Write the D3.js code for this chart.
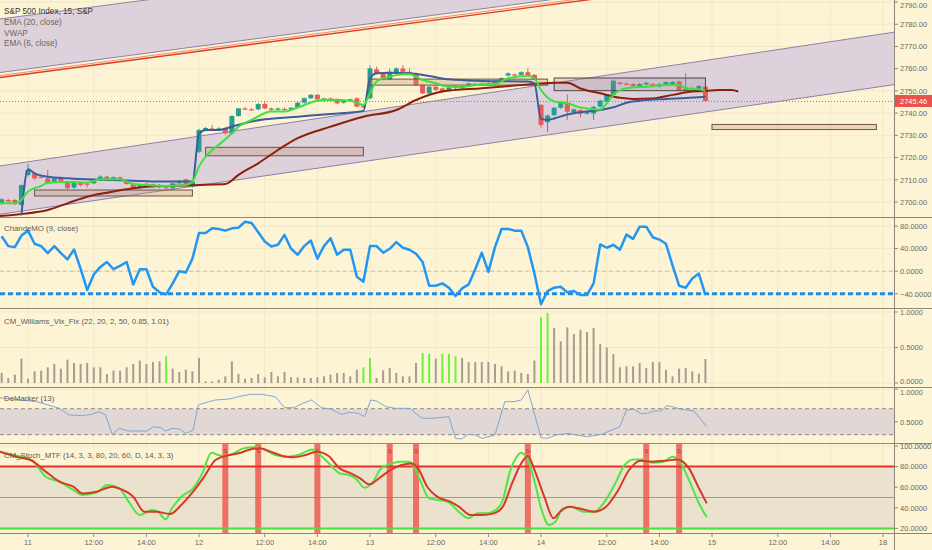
<!DOCTYPE html>
<html><head><meta charset="utf-8">
<script src="https://cdn.jsdelivr.net/npm/d3@7"></script>
<style>
html,body{margin:0;padding:0;background:#fdf4d6;}
svg{display:block;font-family:"Liberation Sans",Arial,sans-serif;}
</style></head><body>
<svg id="c" width="932" height="550"></svg>
<script>
// ---------------- DATA ----------------
const firstBar = -4; // bar index of first candle (day "11" 09:30 = 0)
// [open, high, low, close] per 15-min bar, bars -4 .. 103
const ohlc = [
[2699.3,2701.8,2698.8,2701.2],[2700.9,2701.5,2699.8,2700.2],[2700.9,2701.3,2698.5,2699.1],[2698.7,2707.8,2698.0,2707.6],
[2712.1,2717.1,2711.5,2714.4],[2712.9,2713.5,2710.0,2710.6],[2711.4,2712.0,2710.5,2711.0],[2710.6,2714.4,2708.0,2708.4],
[2708.7,2711.0,2708.5,2710.6],[2710.6,2711.5,2708.8,2709.1],[2709.1,2709.5,2705.8,2706.2],[2706.5,2709.5,2706.0,2709.1],
[2708.7,2709.0,2707.0,2707.6],[2708.3,2709.0,2706.5,2708.2],[2708.4,2710.5,2708.0,2709.9],[2709.9,2712.0,2709.5,2711.4],
[2711.4,2711.8,2710.0,2710.4],[2710.4,2711.5,2710.0,2711.2],[2711.1,2711.5,2709.5,2709.9],[2709.6,2710.0,2707.8,2708.1],
[2708.0,2708.3,2705.8,2706.2],[2706.4,2708.3,2706.0,2708.0],[2708.2,2708.6,2707.5,2708.0],[2708.0,2708.3,2706.5,2706.9],
[2706.6,2708.0,2706.2,2707.7],[2707.2,2707.5,2705.8,2706.2],[2706.2,2708.6,2705.5,2708.4],[2708.4,2709.9,2708.0,2709.6],
[2710.2,2710.6,2707.3,2707.6],[2707.6,2709.5,2706.5,2709.1],
[2722.6,2733.0,2722.0,2732.4],[2732.4,2733.8,2731.8,2733.3],[2733.1,2734.6,2732.3,2732.7],[2732.8,2733.6,2732.2,2733.1],
[2733.1,2733.5,2730.5,2730.9],[2730.9,2739.0,2730.5,2738.7],[2738.7,2742.4,2738.3,2742.1],[2742.1,2742.6,2741.3,2741.7],
[2741.7,2742.2,2741.2,2741.4],[2741.7,2744.5,2741.3,2744.1],[2744.1,2745.2,2741.8,2742.1],[2742.1,2742.5,2741.0,2741.5],
[2741.5,2742.4,2741.1,2742.1],[2741.9,2742.4,2741.2,2741.6],[2741.6,2742.8,2741.3,2742.4],[2742.4,2744.9,2742.1,2744.7],
[2744.7,2747.0,2744.3,2746.7],[2746.7,2748.6,2746.3,2748.2],[2748.2,2748.6,2745.9,2746.2],[2745.6,2746.9,2745.2,2746.6],
[2746.6,2747.0,2745.1,2745.4],[2746.2,2746.5,2744.0,2744.4],[2744.7,2746.2,2744.3,2745.9],[2745.9,2746.6,2745.5,2746.2],
[2746.6,2747.2,2742.6,2742.9],[2743.2,2743.6,2742.4,2742.8],
[2746.7,2761.5,2746.3,2760.1],[2759.7,2761.0,2757.5,2757.9],[2757.9,2758.4,2754.8,2755.2],[2755.2,2760.0,2754.8,2758.6],
[2757.9,2760.6,2757.5,2760.1],[2760.1,2761.6,2758.2,2758.6],[2758.6,2760.1,2757.5,2757.9],[2757.9,2758.3,2752.2,2752.6],
[2752.6,2753.0,2748.5,2748.9],[2748.9,2752.3,2748.5,2751.9],[2751.9,2752.3,2750.0,2750.4],[2751.1,2751.5,2749.2,2749.6],
[2750.1,2751.9,2749.7,2751.5],[2751.9,2752.3,2750.8,2751.2],[2751.2,2752.6,2750.8,2752.2],[2752.2,2753.8,2751.8,2753.4],
[2753.2,2753.6,2752.6,2753.0],[2753.0,2753.8,2752.6,2753.4],[2753.2,2753.8,2752.9,2753.5],[2753.1,2754.6,2752.8,2754.2],
[2754.2,2756.1,2753.8,2755.7],[2756.9,2758.3,2756.5,2757.9],[2757.4,2757.8,2756.8,2757.1],[2757.2,2758.8,2756.8,2758.4],
[2758.4,2760.1,2756.5,2756.9],[2757.2,2757.6,2754.8,2755.2],
[2743.7,2744.2,2733.5,2734.7],[2735.9,2739.3,2731.6,2738.9],[2739.1,2742.8,2738.7,2742.4],[2742.4,2745.1,2742.0,2744.7],
[2744.7,2748.4,2736.9,2740.6],[2740.2,2742.1,2739.8,2741.7],[2741.3,2741.7,2738.1,2739.7],[2739.7,2740.8,2739.3,2740.4],
[2739.8,2743.2,2736.9,2742.8],[2742.9,2746.0,2742.5,2745.6],[2745.2,2748.6,2744.8,2748.2],[2748.2,2755.0,2747.8,2754.6],
[2753.7,2754.1,2752.7,2753.1],[2753.3,2753.7,2752.5,2752.9],[2753.1,2753.5,2751.8,2752.2],[2752.2,2753.5,2751.8,2753.1],
[2752.9,2754.2,2752.5,2753.6],[2753.1,2753.5,2751.5,2751.9],[2751.9,2753.5,2751.5,2753.1],[2752.8,2754.4,2752.4,2754.0],
[2753.1,2754.4,2752.7,2754.0],[2754.2,2754.6,2750.0,2750.4],[2750.6,2757.9,2750.2,2750.9],[2751.0,2751.6,2750.5,2751.2],
[2750.7,2752.6,2750.3,2752.2],[2751.9,2752.3,2745.2,2745.46]
];
const lastPrice = 2745.46;
// indicator lines on price pane: [bar index, value]
const ema20 = [[-4.3,2693.7],[-1,2694.6],[3,2696.4],[6,2699.4],[9,2702.4],[12,2704.2],[16,2706.2],[20,2707.2],[25,2707.5],[27,2707.8],[30,2708.1],[32,2712.2],[35,2717.4],[38,2723.4],[41,2728.7],[46,2733.9],[51,2738.4],[56,2741.4],[59,2745.9],[63,2749.7],[69,2751.2],[74,2752.4],[77,2753.1],[80,2753.7],[82,2753.7],[84,2751.1],[87,2748.9],[90,2746.9],[92,2746.4],[95,2746.6],[98,2748.2],[101,2749.7],[103,2749.9],[105,2750.4],[107,2750.4],[108,2749.7]];
const vwap = [[-1,2694.0],[0,2714.7],[1,2712.9],[3,2711.4],[6,2710.7],[9,2710.2],[13,2709.9],[16,2709.6],[20,2709.2],[25,2709.2],[26,2730.5],[27,2732.4],[29,2732.4],[31,2733.9],[34,2736.2],[36,2737.2],[41,2738.4],[46,2739.6],[51,2741.0],[52,2755.7],[53,2757.9],[55,2758.2],[58,2757.9],[61,2756.7],[64,2755.2],[69,2754.5],[76,2754.2],[77,2753.4],[78,2737.4],[79,2737.0],[80,2737.6],[82,2739.4],[86,2741.1],[87,2741.4],[89,2742.6],[91,2744.7],[93,2745.6],[97,2746.4],[100,2746.8],[103,2747.4]];
const ema6 = [[-4.3,2699.4],[-2,2699.4],[-1,2700.9],[0,2704.7],[1,2706.2],[2,2707.2],[3,2708.7],[6,2709.0],[9,2708.7],[11,2710.2],[14,2710.2],[16,2708.1],[18,2707.6],[21,2707.2],[24,2707.6],[25,2709.1],[26,2715.9],[28,2723.4],[29,2725.7],[31,2730.9],[32,2733.9],[34,2736.9],[37,2740.7],[39,2740.7],[41,2742.5],[44,2745.6],[46,2746.0],[49,2745.6],[51,2743.7],[52,2748.9],[53,2754.2],[55,2756.4],[57,2757.5],[58,2757.5],[60,2754.9],[62,2753.4],[64,2751.9],[66,2751.9],[69,2752.9],[71,2753.1],[73,2755.7],[76,2756.7],[77,2755.7],[78,2750.4],[79,2747.0],[80,2745.2],[82,2744.4],[84,2742.5],[86,2741.7],[87,2741.6],[88,2744.4],[89,2748.2],[91,2751.2],[94,2751.9],[97,2752.7],[99,2752.7],[100,2751.2],[102,2750.7],[103,2749.9]];
// drawings: parallel channels & boxes, as [bar index, price]
const lowerChannelTop = [[-4.26,2716.2],[131.67,2776.4]];
const lowerChannelBottom = [[-4.26,2694.5],[131.67,2752.8]];
const upperChannelTop = [[-4.26,2782.35],[131.67,2834.6]];
const upperChannelBottom = [[-4.26,2758.25],[131.67,2811.45]];
const trendLineRed = [[-4.26,2756.0],[131.67,2809.2]];
const boxes = [ // [i0, i1, pTop, pBottom, kind]
 [1,25,2705.4,2702.7,"tan"],[27,51,2724.6,2720.8,"tan"],[52,79,2755.3,2752.6,"tan"],
 [80,103,2755.8,2750.1,"grey"],[104,129,2734.9,2732.6,"tan"]];
// ChandeMO (9, close), bars -4 .. 103
const cmo = [61.9,44.4,42.6,63.1,71.8,48.5,44.4,32.1,44.4,32.1,21.0,38.5,4.7,-33.3,-5.9,7.6,16.3,3.5,9.3,16.3,
-23.4,3.5,3.5,-27.5,-37.4,-41,-21.6,0,-2.3,22.2,67.7,67.7,75.9,74.7,71.8,75.9,77.1,87.6,85.3,68.9,
52.6,43.8,46.7,64.2,39.7,29.2,44.4,54.3,22.2,44.4,58.4,29.2,38.0,38.0,-9.9,-18.7,44.4,44.4,32.7,39.7,
51.4,41.5,38.0,30.9,16.3,-25.7,-25.7,-21.6,-29.2,-44,-30.4,-23.4,3.5,32.7,-1.2,42.6,74.7,74.7,71.8,71.8,
42.6,-4.1,-58.4,-35.1,-29.2,-27.5,-37.4,-35.1,-42.1,-42.1,-21.6,47.3,41.5,46.7,38.0,64.8,57.2,78.8,78.8,60.1,
56.0,48.5,10.5,-25.7,-29.2,-12.9,-4.1,-42.1];
const cmoLevel = -40;
// CM_Williams_Vix_Fix, bars -4 .. 103
const vix = [0.141,0.070,0.117,0.343,0.061,0.164,0.174,0.221,0.268,0.202,
0.329,0.282,0.268,0.282,0.221,0.221,0.127,0.174,0.174,0.221,
0.268,0.315,0.268,0.296,0.305,0.376,0.202,0.155,0.188,0.164,
0.352,0.023,0.023,0.047,0.094,0.305,0.127,0.061,0.070,0.127,
0.080,0.155,0.094,0.155,0.080,0.080,0.070,0.070,0.080,0.094,
0.117,0.141,0.141,0.094,0.188,0.221,0.352,0.070,0.178,0.211,
0.141,0.094,0.094,0.282,0.423,0.413,0.343,0.408,0.408,0.376,
0.352,0.296,0.296,0.296,0.296,0.268,0.235,0.164,0.174,0.141,
0.127,0.315,0.925,0.986,0.775,0.587,0.784,0.690,0.751,0.718,
0.775,0.549,0.502,0.408,0.221,0.235,0.235,0.282,0.211,0.296,
0.296,0.188,0.094,0.202,0.211,0.164,0.131,0.338];
const vixAlertBars = [21,51,52,60,61,63,64,65,78,79];
// DeMarker (13): [bar index, value]
const demarker = [[-4.3,0.870],[1.3,0.808],[2.7,0.767],[4.8,0.706],[6.2,0.603],[8.3,0.593],[9.7,0.613],[10.8,0.654],[11.8,0.603],[12.8,0.306],[13.9,0.398],[15.3,0.357],[18.1,0.357],[19.1,0.424],[20.2,0.408],[20.9,0.357],[21.9,0.398],[23,0.388],[24,0.321],[25.1,0.372],[25.9,0.757],[27.2,0.798],[28.5,0.834],[30.6,0.849],[32,0.885],[33.8,0.921],[35.5,0.921],[37.6,0.885],[39,0.716],[40.4,0.716],[41.8,0.783],[43.1,0.834],[44.6,0.716],[46,0.695],[47.7,0.613],[48.8,0.644],[50.2,0.629],[51.2,0.577],[52.1,0.834],[53,0.818],[54.4,0.731],[55.8,0.706],[58.1,0.706],[58.9,0.629],[60,0.552],[61.4,0.552],[64,0.577],[65,0.244],[65.9,0.234],[67,0.306],[68,0.295],[69,0.244],[71,0.295],[72.5,0.808],[73.9,0.808],[75,0.834],[76,0.988],[78,0.254],[79,0.244],[80.2,0.295],[82.1,0.321],[84,0.285],[85.1,0.270],[87.2,0.306],[88.2,0.347],[90,0.424],[91,0.680],[92.1,0.695],[93.1,0.629],[94.2,0.629],[95.2,0.665],[96.3,0.665],[97.1,0.747],[98,0.731],[99.1,0.695],[101.2,0.665],[102.2,0.552],[103.2,0.424]];
const demBand = [0.3,0.7];
// CM_Stoch_MTF: %K (green) and %D (red), [bar index, value]
const stochK = [[-4.3,94.5],[-2.2,91.2],[0.6,86.4],[2.7,70.2],[4.8,65.3],[6.9,57.3],[8.3,52.4],[10.4,54.7],[12.1,62.1],[13.9,58.9],[15.3,45.9],[17,33.0],[18.8,37.8],[19.8,36.2],[20.9,28.8],[21.9,39.5],[23.3,50.8],[25.1,58.9],[26.5,73.4],[27.9,93.5],[28.9,91.2],[30,90.3],[31.3,92.9],[32.7,97.7],[34.5,98.7],[35.9,96.7],[37.6,91.2],[39.4,89.6],[41.1,91.2],[43.2,96.7],[44.6,90.3],[46,81.5],[47.4,73.4],[48.8,71.8],[49.8,68.6],[51.2,59.5],[52.3,63.7],[53.7,78.3],[55.1,82.5],[56.5,84.8],[57.9,84.8],[58.6,81.5],[59.6,67.0],[61,49.2],[62.4,47.6],[63.8,45.9],[65.5,36.2],[67,29.8],[68.3,34.6],[69.7,34.6],[71.1,37.8],[72.2,47.6],[73.2,73.4],[74.3,89.6],[75,93.5],[76,86.4],[77.1,63.7],[78.1,37.8],[79.2,23.3],[80.2,26.5],[81.3,39.5],[82.6,41.1],[84.4,36.2],[86.1,36.2],[87.5,44.3],[89.3,63.7],[90.7,81.5],[92.1,87.0],[93.5,87.0],[94.9,83.8],[96.6,84.8],[98,89.6],[99.1,84.8],[100.5,67.0],[101.9,45.9],[103.2,30.7]];
const stochD = [[-4.3,94.5],[-1.5,89.0],[0.6,85.7],[2.7,75.1],[4.8,65.3],[6.9,60.5],[8.3,54.0],[10.4,55.6],[12.8,60.5],[14.2,57.9],[16,50.8],[17.7,36.2],[19.5,36.2],[21.6,34.0],[23.3,42.7],[25.1,55.6],[26.8,70.2],[28.5,86.4],[30.6,91.2],[32,92.9],[33.8,96.7],[35.2,97.7],[36.9,94.5],[38.7,90.3],[40.4,89.0],[42.2,91.2],[43.9,94.5],[45.7,90.3],[47.4,78.3],[49.1,73.4],[50.5,68.6],[51.9,62.8],[53.7,70.2],[55.1,76.7],[56.8,81.5],[58.2,83.1],[59.3,78.3],[60.7,60.5],[62.4,50.1],[64.2,45.9],[65.5,41.1],[67.3,33.0],[69,33.0],[70.8,34.6],[72.2,41.1],[73.6,63.7],[75,83.1],[76,90.3],[77.1,75.1],[78.5,50.8],[79.9,29.8],[80.9,36.2],[82.3,41.1],[83.7,39.5],[86.1,36.2],[87.9,41.1],[89.6,55.6],[91.4,76.7],[93.1,85.7],[94.9,84.8],[97,85.7],[98.7,87.0],[100.5,78.3],[101.9,60.5],[103.2,44.3]];
const stochSignalBars = [30,35,44,55,59,76,94,99];
const stochLevels = {upper:80, mid:50, lower:20};
// axes
const priceTicks = [2700,2710,2720,2730,2740,2750,2760,2770,2780,2790];
const cmoTicks = [80,40,0,-40];
const vixTicks = [1,0.5,0];
const demTicks = [1,0.5];
const stochTicks = [100,80,60,40,20];
const timeTicks = [[0,"11"],[10,"12:00"],[18,"14:00"],[26,"12"],[36,"12:00"],[44,"14:00"],[52,"13"],[62,"12:00"],[70,"14:00"],[78,"14"],[88,"12:00"],[96,"14:00"],[104,"15"],[114,"12:00"],[122,"14:00"],[130,"18"]];
const legendMain = ["S&P 500 Index, 15, S&P","EMA (20, close)","VWAP","EMA (6, close)"];
const paneTitles = ["ChandeMO (9, close)","CM_Williams_Vix_Fix (22, 20, 2, 50, 0.85, 1.01)","DeMarker (13)","CM_Stoch_MTF (14, 3, 3, 80, 20, 60, D, 14, 3, 3)"];

// ---------------- DRAW ----------------
const svg = d3.select("#c");
const AX = 894, W = 932, H = 550;
const panes = {main:[0,217], cmo:[217,308], vix:[308,387], dem:[387,443], sto:[443,533]};
const x = d3.scaleLinear().domain([0,130]).range([28,883]);
const yP = d3.scaleLinear().domain([2700,2790]).range([202,2]);
const yC = d3.scaleLinear().domain([-40,80]).range([293.8,226]);
const yV = d3.scaleLinear().domain([0,1]).range([383,312]);
const yD = d3.scaleLinear().domain([0.5,1]).range([421.7,389.2]);
const yS = d3.scaleLinear().domain([20,100]).range([528.4,446]);
const BG = "#fdf4d6", GRID = "#f2e7c6", AXC = "#8d877a", TXT = "#6c685e";

svg.append("rect").attr("width",W).attr("height",H).attr("fill",BG);
const defs = svg.append("defs");
Object.entries(panes).forEach(([k,[t,b]])=>{
  defs.append("clipPath").attr("id","clip-"+k).append("rect").attr("x",0).attr("y",t).attr("width",AX).attr("height",b-t);
  defs.append("clipPath").attr("id","clipax-"+k).append("rect").attr("x",AX).attr("y",t).attr("width",W-AX).attr("height",b-t);
});
const pane = k => svg.append("g").attr("clip-path",`url(#clip-${k})`);

// vertical grid
const grid = svg.append("g");
timeTicks.forEach(([i])=>{
  if (x(i) < AX) grid.append("line").attr("x1",x(i)).attr("x2",x(i)).attr("y1",0).attr("y2",533).attr("stroke",GRID);
});
function hgrid(k, scale, ticks){
  const g = pane(k);
  ticks.forEach(t=>g.append("line").attr("x1",0).attr("x2",AX).attr("y1",scale(t)).attr("y2",scale(t)).attr("stroke",GRID));
}
hgrid("main",yP,priceTicks); hgrid("cmo",yC,cmoTicks); hgrid("vix",yV,vixTicks); hgrid("dem",yD,demTicks); hgrid("sto",yS,stochTicks);

// ---- main pane ----
const gm = pane("main");
const ext = (line) => { // extend a 2-point line to x range [0, AX]
  const [a,b] = line;
  const xa = x(a[0]), ya = yP(a[1]), xb = x(b[0]), yb = yP(b[1]);
  const s = (yb-ya)/(xb-xa);
  return [[0, ya + s*(0-xa)],[AX, ya + s*(AX-xa)]];
};
function channel(top, bottom){
  const t = ext(top), b = ext(bottom);
  gm.append("path").attr("d",`M${t[0]}L${t[1]}L${b[1]}L${b[0]}Z`).attr("fill","#ddd2dc").attr("stroke","none");
  [t,b].forEach(l=>gm.append("line").attr("x1",l[0][0]).attr("y1",l[0][1]).attr("x2",l[1][0]).attr("y2",l[1][1]).attr("stroke","#8e80a6").attr("stroke-width",1));
}
channel(lowerChannelTop, lowerChannelBottom);
channel(upperChannelTop, upperChannelBottom);
const rl = ext(trendLineRed);
gm.append("line").attr("x1",rl[0][0]).attr("y1",rl[0][1]-2).attr("x2",rl[1][0]).attr("y2",rl[1][1]-2).attr("stroke","#f08c72").attr("stroke-width",1);
gm.append("line").attr("x1",rl[0][0]).attr("y1",rl[0][1]).attr("x2",rl[1][0]).attr("y2",rl[1][1]).attr("stroke","#e23a22").attr("stroke-width",1.4);

// current price line
gm.append("line").attr("x1",0).attr("x2",AX).attr("y1",Math.round(yP(lastPrice))+0.5).attr("y2",Math.round(yP(lastPrice))+0.5)
  .attr("stroke","#e06060").attr("stroke-dasharray","1,2").attr("stroke-width",1);

// candles
const UP = "#2a9d8f", DN = "#ec5b55";
const cg = gm.append("g");
ohlc.forEach((d,k)=>{
  const i = firstBar + k, cx = x(i), [o,h,l,c] = d, col = c>=o ? UP : DN;
  cg.append("line").attr("x1",cx).attr("x2",cx).attr("y1",yP(h)).attr("y2",yP(l)).attr("stroke",col).attr("stroke-width",1);
  const y1 = yP(Math.max(o,c)), y2 = yP(Math.min(o,c));
  cg.append("rect").attr("x",cx-2.5).attr("width",5).attr("y",y1).attr("height",Math.max(1.2,y2-y1)).attr("fill",col);
});

// boxes (drawings)
boxes.forEach(([i0,i1,p0,p1,kind])=>{
  gm.append("rect").attr("x",x(i0)).attr("y",yP(p0)).attr("width",x(i1)-x(i0)).attr("height",yP(p1)-yP(p0))
    .attr("fill", kind==="tan" ? "rgba(196,150,120,0.35)" : "rgba(150,120,140,0.22)")
    .attr("stroke", kind==="tan" ? "#6f5346" : "#4d4545").attr("stroke-width",1);
});

const lineP = d3.line().x(d=>x(d[0])).y(d=>yP(d[1])).curve(d3.curveMonotoneX);
gm.append("path").attr("d",lineP(ema20)).attr("fill","none").attr("stroke","#8e1f0c").attr("stroke-width",2);
gm.append("path").attr("d",lineP(vwap)).attr("fill","none").attr("stroke","#3b5d9c").attr("stroke-width",2);
gm.append("path").attr("d",lineP(ema6)).attr("fill","none").attr("stroke","#3fe03a").attr("stroke-width",2);

// ---- ChandeMO ----
const gc = pane("cmo");
gc.append("line").attr("x1",0).attr("x2",AX).attr("y1",yC(0)).attr("y2",yC(0)).attr("stroke","#c9bfae").attr("stroke-dasharray","4,3");
gc.append("line").attr("x1",0).attr("x2",AX).attr("y1",yC(cmoLevel)).attr("y2",yC(cmoLevel)).attr("stroke","#1f8be0").attr("stroke-width",3).attr("stroke-dasharray","5,3");
gc.append("path").attr("d",d3.line().x((d,k)=>x(firstBar+k)).y(d=>yC(d))(cmo)).attr("fill","none").attr("stroke","#2196f3").attr("stroke-width",2.5).attr("stroke-linejoin","round");

// ---- Vix Fix ----
const gv = pane("vix");
vix.forEach((v,k)=>{
  const i = firstBar + k, green = vixAlertBars.includes(i);
  gv.append("rect").attr("x",x(i)-1).attr("width",2).attr("y",yV(v)).attr("height",yV(0)-yV(v)).attr("fill",green ? "#6cf23c" : "#a49d90");
});

// ---- DeMarker ----
const gd = pane("dem");
gd.append("rect").attr("x",0).attr("width",AX).attr("y",yD(demBand[1])).attr("height",yD(demBand[0])-yD(demBand[1])).attr("fill","#e1d8d5");
demBand.forEach(v=>gd.append("line").attr("x1",0).attr("x2",AX).attr("y1",yD(v)).attr("y2",yD(v)).attr("stroke","#8f8a86").attr("stroke-dasharray","4,3"));
gd.append("path").attr("d",d3.line().x(d=>x(d[0])).y(d=>yD(d[1]))(demarker)).attr("fill","none").attr("stroke","#7fa7d4").attr("stroke-width",1);

// ---- Stoch MTF ----
const gs = pane("sto");
gs.append("rect").attr("x",0).attr("width",AX).attr("y",yS(stochLevels.upper)).attr("height",yS(stochLevels.lower)-yS(stochLevels.upper)).attr("fill","#ebe2cd");
gs.append("line").attr("x1",0).attr("x2",AX).attr("y1",yS(stochLevels.mid)).attr("y2",yS(stochLevels.mid)).attr("stroke","#a09a90").attr("stroke-width",1);
stochSignalBars.forEach(i=>{
  gs.append("rect").attr("x",x(i)-3).attr("width",6).attr("y",panes.sto[0]).attr("height",panes.sto[1]-panes.sto[0]).attr("fill","rgba(238,80,70,0.78)");
  gs.append("text").attr("x",x(i)).attr("y",panes.sto[0]+10).attr("text-anchor","middle").attr("font-size",6).attr("fill","#b03a30").text("S");
});
gs.append("line").attr("x1",0).attr("x2",AX).attr("y1",yS(stochLevels.upper)).attr("y2",yS(stochLevels.upper)).attr("stroke","#e8302a").attr("stroke-width",2);
gs.append("line").attr("x1",0).attr("x2",AX).attr("y1",yS(stochLevels.lower)).attr("y2",yS(stochLevels.lower)).attr("stroke","#49e03a").attr("stroke-width",2);
const lineS = d3.line().x(d=>x(d[0])).y(d=>yS(d[1])).curve(d3.curveMonotoneX);
gs.append("path").attr("d",lineS(stochK)).attr("fill","none").attr("stroke","#52e346").attr("stroke-width",2);
gs.append("path").attr("d",lineS(stochD)).attr("fill","none").attr("stroke","#d63a26").attr("stroke-width",2);

// ---- separators & axes ----
[217,308,387,443,533].forEach(y=>svg.append("line").attr("x1",0).attr("x2",W).attr("y1",y+0.5).attr("y2",y+0.5).attr("stroke",AXC).attr("stroke-width",1));
svg.append("line").attr("x1",AX+0.5).attr("x2",AX+0.5).attr("y1",0).attr("y2",H).attr("stroke",AXC);

function yAxis(k, scale, ticks, fmt, nudge){
  const g = svg.append("g").attr("clip-path",`url(#clipax-${k})`);
  ticks.forEach(t=>{
    const yy = scale(t);
    const dy = (nudge && nudge[t]) || 0;
    g.append("line").attr("x1",AX).attr("x2",AX+4).attr("y1",yy).attr("y2",yy).attr("stroke",AXC);
    g.append("text").attr("x",AX+6).attr("y",yy+2.8+dy).attr("font-size",7.5).attr("fill",TXT).text(fmt(t));
  });
}
yAxis("main",yP,priceTicks,d3.format(".2f"),{2790:3});
yAxis("cmo",yC,cmoTicks,d3.format(".4f"));
yAxis("vix",yV,vixTicks,d3.format(".4f"),{0:-2});
yAxis("dem",yD,demTicks,d3.format(".4f"),{1:2.5});
yAxis("sto",yS,stochTicks,d3.format(".4f"));

// last price label
const ly = yP(lastPrice);
svg.append("rect").attr("x",AX+1).attr("y",ly-6).attr("width",W-AX-1).attr("height",12).attr("fill","#e8524c");
svg.append("text").attr("x",AX+6).attr("y",ly+2.8).attr("font-size",7.5).attr("fill","#fff").text(d3.format(".2f")(lastPrice));

// time axis
timeTicks.forEach(([i,lab])=>{
  svg.append("line").attr("x1",x(i)).attr("x2",x(i)).attr("y1",533).attr("y2",537).attr("stroke",AXC);
  svg.append("text").attr("x",x(i)).attr("y",545).attr("text-anchor","middle").attr("font-size",7.5).attr("fill",TXT).text(lab);
});

// legends
legendMain.forEach((t,k)=>svg.append("text").attr("x",4).attr("y",14+k*10.8).attr("font-size",8.2)
  .attr("fill",k===0?"#3b372e":"#6a665c").text(t));
[231,324,401,458].forEach((yy,k)=>svg.append("text").attr("x",4).attr("y",yy).attr("font-size",7.8).attr("fill","#5e5a52").text(paneTitles[k]));
</script>
</body></html>
